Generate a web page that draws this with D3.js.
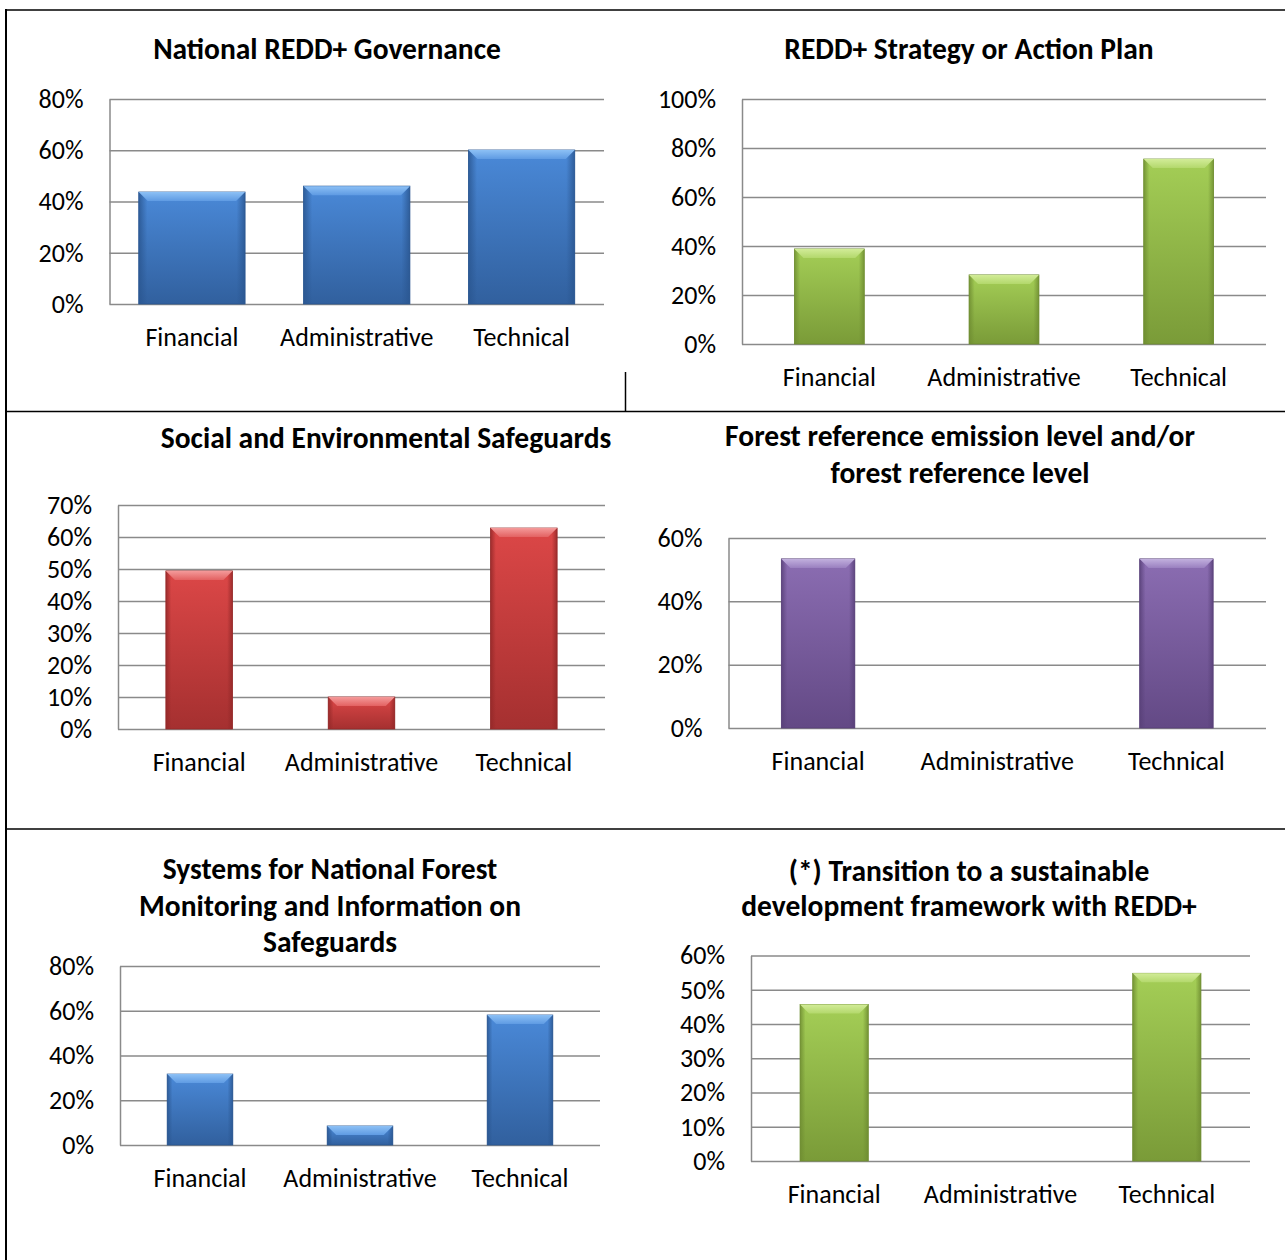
<!DOCTYPE html>
<html lang="en">
<head>
<meta charset="UTF-8">
<title>REDD+ support needs</title>
<script src="https://cdn.jsdelivr.net/npm/d3@7"></script>
<style>
  body { margin: 0; background: #fff; }
  svg text { font-family: Carlito, Calibri, Lato, sans-serif; fill: #000; }
  .y-axis line, .y-axis path { stroke: #8a8a8a; stroke-width: 1.5; }
  .y-axis text, .x-axis text { font-size: 26px; }
  .x-axis path { display: none; }
  .title { font-size: 29.5px; font-weight: bold; }
  .frame { stroke: #000; }
</style>
</head>
<body>
<div id="chart"></div>
<script>
// ---- data ----
const categories = ["Financial", "Administrative", "Technical"];

const chartTitles = [
  ["National REDD+ Governance"],
  ["REDD+ Strategy or Action Plan"],
  ["Social and Environmental Safeguards"],
  ["Forest reference emission level and/or", "forest reference level"],
  ["Systems for National Forest", "Monitoring and Information on", "Safeguards"],
  ["(*) Transition to a sustainable", "development framework with REDD+"]
];

const governanceValues  = [0.437, 0.460, 0.601];
const strategyValues    = [0.388, 0.282, 0.755];
const safeguardValues   = [0.494, 0.100, 0.628];
const referenceValues   = [0.534, 0.000, 0.534];
const monitoringValues  = [0.317, 0.085, 0.581];
const transitionValues  = [0.457, 0.000, 0.548];

const allValues = [governanceValues, strategyValues, safeguardValues,
                   referenceValues, monitoringValues, transitionValues];

const yMaxima   = [0.8, 1.0, 0.7, 0.6, 0.8, 0.6];
const tickCounts = [4, 5, 7, 3, 4, 6];

// ---- layout / style ----
const width = 1285, height = 1260;

const panels = [
  {cx: 327, titleY: [48],            left: 109.5, right: 604,  top: 99,    bottom: 304,  bar: 0.645, color: "blue"},
  {cx: 969, titleY: [48],            left: 742,   right: 1266, top: 99,    bottom: 344,  bar: 0.40,  color: "green"},
  {cx: 386, titleY: [437],           left: 118,   right: 605,  top: 505,   bottom: 729,  bar: 0.41,  color: "red"},
  {cx: 960, titleY: [435, 472],      left: 728.5, right: 1266, top: 538,   bottom: 728,  bar: 0.41,  color: "purple"},
  {cx: 330, titleY: [868, 905, 941], left: 120,   right: 600,  top: 966,   bottom: 1145, bar: 0.41,  color: "blue"},
  {cx: 969, titleY: [870, 905],      left: 751,   right: 1250, top: 955.5, bottom: 1161, bar: 0.41,  color: "green"}
];

const palette = {
  blue:   {hi: "#8cc0f5", mid: "#5f9be3", top: "#4a89d8", bot: "#31609e", edge: "#2a5690"},
  green:  {hi: "#d2ec98", mid: "#b3d86c", top: "#a4ce56", bot: "#7a9b38", edge: "#6e8c31"},
  red:    {hi: "#f49a9a", mid: "#e36262", top: "#dc4747", bot: "#a53030", edge: "#932828"},
  purple: {hi: "#c2b0de", mid: "#9a80c0", top: "#8b6db2", bot: "#634985", edge: "#584078"}
};

const svg = d3.select("#chart").append("svg")
  .attr("width", width)
  .attr("height", height);

const defs = svg.append("defs");
Object.entries(palette).forEach(([name, c]) => {
  const g = defs.append("linearGradient").attr("id", "body-" + name)
    .attr("x1", 0).attr("y1", 0).attr("x2", 0).attr("y2", 1);
  g.append("stop").attr("offset", "0%").attr("stop-color", c.top);
  g.append("stop").attr("offset", "100%").attr("stop-color", c.bot);

  const s = defs.append("linearGradient").attr("id", "side-" + name)
    .attr("x1", 0).attr("y1", 0).attr("x2", 1).attr("y2", 0);
  s.append("stop").attr("offset", "0%").attr("stop-color", c.edge).attr("stop-opacity", 0.85);
  s.append("stop").attr("offset", "8%").attr("stop-color", c.edge).attr("stop-opacity", 0);
  s.append("stop").attr("offset", "92%").attr("stop-color", c.edge).attr("stop-opacity", 0);
  s.append("stop").attr("offset", "100%").attr("stop-color", c.edge).attr("stop-opacity", 0.85);

  const h = defs.append("linearGradient").attr("id", "hi-" + name)
    .attr("x1", 0).attr("y1", 0).attr("x2", 0).attr("y2", 1);
  h.append("stop").attr("offset", "0%").attr("stop-color", c.hi);
  h.append("stop").attr("offset", "100%").attr("stop-color", c.mid);
});

// table frame
const frame = svg.append("g").attr("class", "frame");
frame.append("line").attr("x1", 6).attr("x2", 6).attr("y1", 9).attr("y2", height).attr("stroke-width", 2);
frame.append("line").attr("x1", 5).attr("x2", width).attr("y1", 10).attr("y2", 10).attr("stroke-width", 1.5);
frame.append("line").attr("x1", 5).attr("x2", width).attr("y1", 411.5).attr("y2", 411.5).attr("stroke-width", 1.5);
frame.append("line").attr("x1", 5).attr("x2", width).attr("y1", 829).attr("y2", 829).attr("stroke-width", 1.5);
frame.append("line").attr("x1", 625.5).attr("x2", 625.5).attr("y1", 372).attr("y2", 411).attr("stroke-width", 1.5);

panels.forEach((p, i) => {
  const values = allValues[i];
  const g = svg.append("g");
  const c = palette[p.color];

  const x = d3.scaleBand().domain(categories).range([p.left, p.right]).padding(0);
  const y = d3.scaleLinear().domain([0, yMaxima[i]]).range([p.bottom, p.top]);

  // title
  g.append("text")
    .attr("class", "title")
    .attr("text-anchor", "middle")
    .selectAll("tspan")
    .data(chartTitles[i])
    .join("tspan")
    .attr("x", p.cx)
    .attr("y", (d, k) => p.titleY[k])
    .attr("dy", "0.36em")
    .text(d => d);

  // value axis with gridlines
  g.append("g")
    .attr("class", "y-axis")
    .attr("transform", `translate(${p.left},0)`)
    .call(d3.axisLeft(y)
      .ticks(tickCounts[i])
      .tickFormat(d3.format(".0%"))
      .tickSizeInner(-(p.right - p.left))
      .tickSizeOuter(0)
      .tickPadding(26))
    .call(a => a.selectAll("text").attr("fill", "#000"));

  // category axis
  g.append("g")
    .attr("class", "x-axis")
    .attr("transform", `translate(0,${p.bottom})`)
    .call(d3.axisBottom(x).tickSize(0).tickPadding(24))
    .call(a => a.selectAll("text").attr("fill", "#000"));

  const bw = x.bandwidth() * p.bar;
  const bars = g.selectAll(".bar")
    .data(categories.map((cat, k) => ({cat, v: values[k]})).filter(d => d.v > 0))
    .join("g")
    .attr("class", "bar");

  const bx = d => x(d.cat) + (x.bandwidth() - bw) / 2;
  const bev = d => Math.min(9, (y(0) - y(d.v)) / 2);

  bars.append("rect")
    .attr("x", bx)
    .attr("y", d => y(d.v))
    .attr("width", bw)
    .attr("height", d => y(0) - y(d.v))
    .attr("fill", `url(#body-${p.color})`)
    .attr("stroke", c.edge)
    .attr("stroke-width", 0.8);

  bars.append("rect")
    .attr("x", bx)
    .attr("y", d => y(d.v))
    .attr("width", bw)
    .attr("height", d => y(0) - y(d.v))
    .attr("fill", `url(#side-${p.color})`);

  // top bevel
  bars.append("polygon")
    .attr("points", d => {
      const x0 = bx(d), y0 = y(d.v), b = bev(d);
      return [[x0, y0], [x0 + bw, y0], [x0 + bw - b, y0 + b], [x0 + b, y0 + b]].join(" ");
    })
    .attr("fill", `url(#hi-${p.color})`);
});
</script>
</body>
</html>
